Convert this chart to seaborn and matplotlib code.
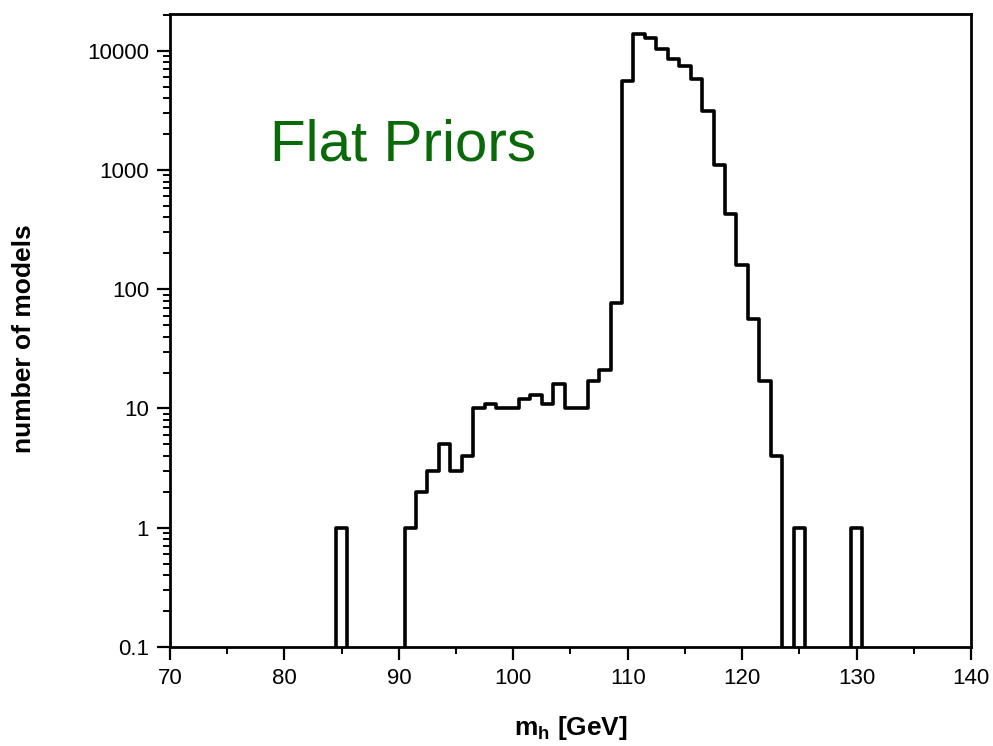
import numpy as np
import pandas as pd
import matplotlib
matplotlib.use('Agg')
import matplotlib.pyplot as plt
from matplotlib.ticker import MultipleLocator, LogLocator, NullFormatter, FixedLocator, FixedFormatter
import seaborn as sns

# histogram of Higgs mass, 1 GeV bins (bin centres in GeV)
bin_center = [84, 85, 86, 87, 88, 89, 90, 91, 92, 93, 94, 95, 96, 97, 98, 99,
              100, 101, 102, 103, 104, 105, 106, 107, 108, 109, 110, 111, 112,
              113, 114, 115, 116, 117, 118, 119, 120, 121, 122, 123, 124, 125,
              126, 127, 128, 129, 130, 131]
n_models = [0, 1, 0, 0, 0, 0, 0, 1, 2, 3, 5, 3, 4, 10, 11, 10,
            10, 12, 13, 11, 16, 10, 10, 17, 21, 76, 5600, 13800, 12800,
            10300, 8600, 7500, 5800, 3100, 1100, 430, 160, 56, 17, 4, 0, 1,
            0, 0, 0, 0, 1, 0]

y_ticks = [0.1, 1, 10, 100, 1000, 10000]
y_ticklabels = ['0.1', '1', '10', '100', '1000', '10000']
x_ticks = [70, 80, 90, 100, 110, 120, 130, 140]

df = pd.DataFrame({'mh': bin_center, 'n': n_models})

sns.set_style("ticks")
plt.rcParams['font.family'] = ['Liberation Sans', 'DejaVu Sans']
plt.rcParams['text.color'] = 'black'
plt.rcParams['xtick.color'] = 'black'
plt.rcParams['ytick.color'] = 'black'
plt.rcParams['axes.labelcolor'] = 'black'

fig = plt.figure(figsize=(9.93, 7.46), dpi=100)
ax = fig.add_axes([0.1712, 0.1327, 0.8066, 0.8485])

# bin edges at half-integers (list: seaborn chokes on an array here)
edges = [c - 0.5 for c in bin_center] + [bin_center[-1] + 0.5]
sns.histplot(data=df, x='mh', weights='n', bins=edges, element='step',
             fill=False, color='black', linewidth=2.6, ax=ax)

ax.set_yscale('log')
ax.set_xlim(70, 140)
ax.set_ylim(0.1, 2.03e4)

ax.yaxis.set_major_locator(FixedLocator(y_ticks))
ax.yaxis.set_major_formatter(FixedFormatter(y_ticklabels))
ax.yaxis.set_minor_locator(LogLocator(base=10, subs=np.arange(2, 10)))
ax.yaxis.set_minor_formatter(NullFormatter())
ax.xaxis.set_major_locator(FixedLocator(x_ticks))
ax.xaxis.set_minor_locator(MultipleLocator(5))

for s in ax.spines.values():
    s.set_visible(True)
    s.set_linewidth(2.0)
    s.set_color('black')

ax.tick_params(which='major', direction='out', length=9.5, width=1.6,
               labelsize=16, pad=5.5, top=False, right=False)
ax.tick_params(which='minor', direction='out', length=5, width=1.4,
               top=False, right=False)

ax.set_xlabel(r'$\mathregular{m_h}$ [GeV]', fontsize=19, fontweight='bold')
ax.set_ylabel('number of models', fontsize=19, fontweight='bold')
ax.xaxis.set_label_coords(0.5, -0.106)
ax.xaxis.label.set_va('top')
ax.yaxis.set_label_coords(-0.167, 0.487)

ax.text(0.125, 0.769, 'Flat Priors', transform=ax.transAxes, fontsize=42,
        color='#0a6a0a', va='baseline', ha='left')

fig.savefig('out.png', dpi=100)
